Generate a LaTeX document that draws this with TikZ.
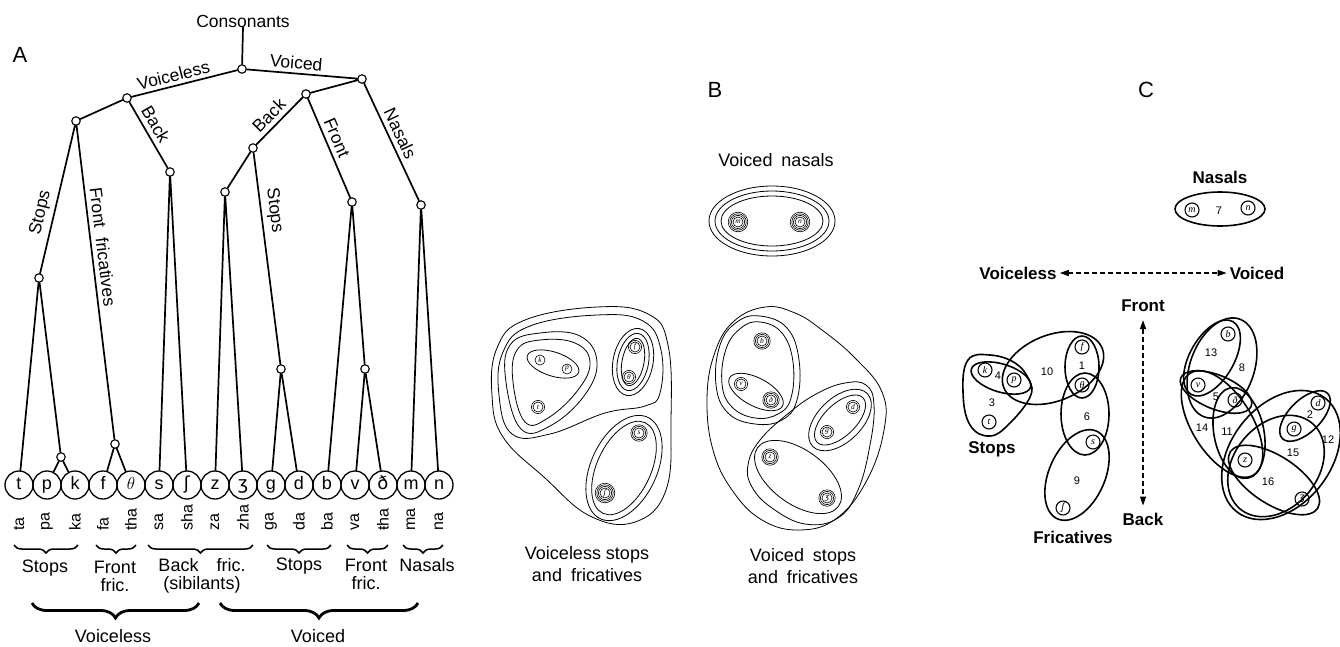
\documentclass[tikz,border=0pt]{standalone}
\usepackage{fontspec}
\setmainfont{Liberation Sans}
\newfontfamily\ipafont{DejaVu Sans}
\newfontfamily\serifit{Liberation Serif}
\usetikzlibrary{decorations.pathreplacing,arrows.meta}
\newcommand\rell[6]{\draw[#1, rotate around={#6:(#2,#3)}] (#2,#3) ellipse [x radius=#4pt, y radius=#5pt];}
\newcommand\bring[2]{\foreach \rr in {#2}{\draw[line width=0.6pt] (#1.center) circle [radius=\rr pt];}}
\tikzset{
 tree/.style={line width=1.7pt, line cap=round},
 knot/.style={circle, draw, fill=white, line width=1.1pt, minimum size=8.5pt, inner sep=0pt},
 leaf/.style={circle, draw, line width=1.3pt, minimum size=28pt, inner sep=0pt, text height=12pt, text depth=2.6pt, font=\fontsize{18}{18}\selectfont},
 brlab/.style={font=\fontsize{17.5}{17.5}\selectfont, inner sep=0pt},
 syl/.style={rotate=90, anchor=west, font=\fontsize{16}{16}\selectfont, inner sep=0pt},
 grp/.style={font=\fontsize{18}{18}\selectfont, align=center, inner sep=0pt},
 grpB/.style={font=\fontsize{18}{22}\selectfont, align=center, inner sep=0pt},
 smallbrace/.style={decorate, decoration={brace, mirror, amplitude=8pt}, line width=1.5pt},
 bigbrace/.style={decorate, decoration={brace, mirror, amplitude=15pt}, line width=2.8pt},
 thinc/.style={line width=0.8pt},
 bl/.style={circle, draw, line width=0.6pt, minimum size=10pt, inner sep=0pt, font=\serifit\itshape\fontsize{7.5}{7.5}\selectfont},
 cl/.style={line width=1.6pt},
 cletter/.style={circle, draw, line width=1.1pt, minimum size=14pt, inner sep=0pt, font=\serifit\itshape\fontsize{10}{10}\selectfont},
 num/.style={font=\fontsize{11}{11}\selectfont, inner sep=0pt},
 clab/.style={font=\bfseries\fontsize{17}{17}\selectfont, inner sep=0pt},
 panel/.style={font=\fontsize{22}{22}\selectfont, inner sep=0pt},
 darr/.style={dash pattern=on 5pt off 3pt, line width=1.3pt, {Triangle[length=9pt,width=6pt]}-{Triangle[length=9pt,width=6pt]}}
}
\begin{document}
\begin{tikzpicture}[x=1pt,y=-1pt]
\path[fill=white] (0,0) rectangle (1340,646);
\useasboundingbox (0,0) rectangle (1340,646);

%================ A =================
\node[panel] (labA) at (20,55) {A};
\node[brlab] (cons) at (243,21) {Consonants};
\node[knot] (r) at (242,69) {};
\node[knot] (vl) at (127,98) {};
\node[knot] (vd) at (362,79) {};
\node[knot] (sf) at (76,121) {};
\node[knot] (vlb) at (170,172) {};
\node[knot] (vdf) at (306,94) {};
\node[knot] (vn) at (421,205) {};
\node[knot] (vdb) at (253,148) {};
\node[knot] (vdfr) at (352,202) {};
\node[knot] (zz) at (225,192) {};
\node[knot] (gd) at (281,369) {};
\node[knot] (st) at (39,278) {};
\node[knot] (ff) at (115,444) {};
\node[knot] (pk) at (61,457) {};
\node[knot] (vth) at (365,369) {};

\foreach \i/\nm/\ch/\sy in {0/t/t/ta, 1/p/p/pa, 2/k/k/ka, 3/f/f/fa, 4/th/{$\theta$}/tha, 5/s/s/sa, 6/sh/{\ipafont ʃ}/sha, 7/z/z/za, 8/zh/{\ipafont ʒ}/zha, 9/g/g/ga, 10/d/d/da, 11/b/b/ba, 12/v/v/va, 13/dh/{\ipafont ð}/ŧha, 14/m/m/ma, 15/n/n/na}
{
  \node[leaf] (L\nm) at ({19+28*\i},485) {\ch};
  \node[syl] (S\nm) at ({19+28*\i},531) {\sy};
}

\draw[tree] (cons.south) -- (r);
\draw[tree] (r) -- (vl) (r) -- (vd) (vl) -- (sf) (vl) -- (vlb) (vd) -- (vdf) (vd) -- (vn)
  (vdf) -- (vdb) (vdf) -- (vdfr) (vdb) -- (zz) (vdb) -- (gd) (sf) -- (st) (sf) -- (ff)
  (st) -- (Lt) (st) -- (pk) (pk) -- (Lp) (pk) -- (Lk) (ff) -- (Lf) (ff) -- (Lth)
  (vlb) -- (Ls) (vlb) -- (Lsh) (zz) -- (Lz) (zz) -- (Lzh) (gd) -- (Lg) (gd) -- (Ld)
  (vdfr) -- (Lb) (vdfr) -- (vth) (vth) -- (Lv) (vth) -- (Ldh) (vn) -- (Lm) (vn) -- (Ln);

\path (vl) -- node[brlab, sloped, pos=0.42, above=4pt] (eVl) {Voiceless} (r);
\path (r) -- node[brlab, sloped, pos=0.44, above=4pt] (eVd) {Voiced} (vd);
\path (vl) -- node[brlab, sloped, pos=0.43, above=5pt] (eBk1) {Back} (vlb);
\path (st) -- node[brlab, sloped, pos=0.39, above=5pt] (eSt1) {Stops} (sf);
\path (sf) -- node[brlab, sloped, pos=0.39, above=5pt] (eFf) {Front\ \ fricatives} (ff);
\path (vdb) -- node[brlab, sloped, pos=0.45, above=5pt] (eBk2) {Back} (vdf);
\path (vdb) -- node[brlab, sloped, pos=0.28, above=5pt] (eSt2) {Stops} (gd);
\path (vdf) -- node[brlab, sloped, pos=0.44, above=5pt] (eFr) {Front} (vdfr);
\path (vd) -- node[brlab, sloped, pos=0.47, above=5pt] (eNs) {Nasals} (vn);

\draw[smallbrace] (14,545) -- (78,545);
\draw[smallbrace] (96,545) -- (136,545);
\draw[smallbrace] (148,545) -- (253,545);
\draw[smallbrace] (267,545) -- (331,545);
\draw[smallbrace] (347,545) -- (388,545);
\draw[smallbrace] (403,545) -- (443,545);
\draw[bigbrace] (32,603) -- (199,603);
\draw[bigbrace] (220,603) -- (418,603);

\node[grp] (gSt1) at (45,568) {Stops};
\node[grp] (gFf1) at (115,576) {Front\\fric.};
\node[grp] (gBf) at (202,576) {Back\quad fric.\\(sibilants)};
\node[grp] (gSt2) at (299,566) {Stops};
\node[grp] (gFf2) at (366,574) {Front\\fric.};
\node[grp] (gNs) at (427,565) {Nasals};
\node[grp] (gVl) at (113,636) {Voiceless};
\node[grp] (gVd) at (318,636) {Voiced};

%================ B =================
\node[panel] (labB) at (715,90) {B};
\node[grp] (bNasL) at (776,160) {Voiced\enspace nasals};
\foreach \a/\b in {63/35,57/30,51/25}{\draw[thinc] (772,221) ellipse [x radius=\a pt, y radius=\b pt];}
\node[bl] (Bm) at (738,222) {m}; \bring{Bm}{6.6,8.2,9.8}
\node[bl] (Bn) at (800,222) {n}; \bring{Bn}{6.6,8.2,9.8}

% voiceless
\draw[thinc] plot[smooth cycle, tension=0.7] coordinates {(492,395) (497,348) (525,320) (597,307) (648,314) (668,345) (671,420) (666,490) (635,522) (590,516) (545,478) (503,437)};
\draw[thinc] plot[smooth cycle, tension=0.7] coordinates {(499,395) (503,352) (530,326) (597,315) (643,321) (661,350) (660,393) (645,406) (605,413) (550,434) (512,434)};
\draw[thinc] plot[smooth cycle, tension=0.7] coordinates {(506,382) (510,345) (540,333) (580,336) (597,362) (584,396) (550,426) (521,429)};
\draw[thinc] plot[smooth cycle, tension=0.7] coordinates {(513,382) (517,350) (540,340) (575,343) (590,362) (578,390) (548,418) (525,422)};
\rell{thinc}{553}{364}{27}{12}{-18}
\foreach \a/\b in {34/20,29/15.5,24/11}{\rell{thinc}{633}{362}{\a}{\b}{79}}
\foreach \a/\b in {56/33,50/27}{\rell{thinc}{624}{468}{\a}{\b}{65}}
\node[bl] (Bk) at (540,360) {k};
\node[bl] (Bp) at (567,369) {p};
\node[bl] (Bt) at (538,407) {t}; \bring{Bt}{6.6}
\node[bl] (Bf) at (635,347) {f}; \bring{Bf}{6.6}
\node[bl] (Bth) at (629,377) {θ}; \bring{Bth}{6.6}
\node[bl] (Bs) at (639,433) {s}; \bring{Bs}{6.6,8.2}
\node[bl] (Bsh) at (605,493) {\ipafont ʃ}; \bring{Bsh}{6.6,8.2,9.8}
\node[grpB] (bVl) at (587,564) {Voiceless stops\\and\enspace fricatives};

% voiced
\draw[thinc] plot[smooth cycle, tension=0.7] coordinates {(707,400) (714,355) (733,322) (765,307) (795,313) (822,330) (855,358) (882,392) (884,430) (867,480) (837,518) (800,530) (762,520) (732,490) (713,450)};
\draw[thinc] plot[smooth cycle, tension=0.7] coordinates {(760,316) (787,328) (799,360) (797,400) (782,420) (755,424) (728,413) (716,385) (720,345) (737,322)};
\draw[thinc] plot[smooth cycle, tension=0.7] coordinates {(760,322) (782,333) (793,362) (791,398) (778,414) (755,418) (732,407) (722,384) (726,349) (741,328)};
\rell{thinc}{756}{392}{30}{14}{-28}
\draw[thinc] plot[smooth cycle, tension=0.7] coordinates {(748,465) (760,440) (790,412) (818,393) (845,383) (866,385) (874,405) (870,445) (858,490) (838,518) (805,524) (772,508) (752,487)};
\rell{thinc}{840}{420}{38}{22}{44}
\rell{thinc}{840}{420}{32}{16}{44}
\rell{thinc}{798}{477}{50}{27}{-36}
\node[bl] (Bb) at (762,341) {b}; \bring{Bb}{6.6,8.2}
\node[bl] (Bv) at (741,384) {v}; \bring{Bv}{6.6}
\node[bl] (Bdh) at (771,400) {ð}; \bring{Bdh}{6.6,8.2}
\node[bl] (Bd) at (853,407) {d}; \bring{Bd}{6.6}
\node[bl] (Bg) at (827,432) {g}; \bring{Bg}{6.6}
\node[bl] (Bz) at (770,457) {z}; \bring{Bz}{6.6,8.2}
\node[bl] (Bzh) at (827,498) {\ipafont ʒ}; \bring{Bzh}{6.6,8.2}
\node[grpB] (bVd) at (803,566) {Voiced\enspace stops\\and\enspace fricatives};

%================ C =================
\node[panel] (labC) at (1146,90) {C};
\node[clab] (cNas) at (1220,177) {Nasals};
\draw[cl] (1220,209) ellipse [x radius=45pt, y radius=17pt];
\node[cletter] (Cm) at (1192,210) {m};
\node[num] (n7) at (1219,211) {7};
\node[cletter] (Cn) at (1248,208) {n};

\node[clab] (cVl) at (1018,273) {Voiceless};
\node[clab] (cVd) at (1257,273) {Voiced};
\draw[darr, shorten <=3pt, shorten >=3pt] (cVl) -- (cVd);
\node[clab] (cFr) at (1143,306) {Front};
\node[clab] (cBk) at (1143,519) {Back};
\draw[darr, shorten <=8pt, shorten >=7pt] (cFr) -- (cBk);

% left cluster
\draw[cl] plot[smooth cycle, tension=0.7] coordinates {(963,392) (968,360) (990,355) (1015,363) (1029,380) (1030,397) (1010,423) (990,436) (970,425)};
\rell{cl}{1001}{378}{31}{14}{-17}
\rell{cl}{1053}{368}{53}{33}{22}
\draw[cl] (1082,367) ellipse [x radius=17pt, y radius=31pt];
\draw[cl] (1085,414) ellipse [x radius=24pt, y radius=41pt];
\rell{cl}{1077}{475}{48}{28}{66}
\node[cletter] (Ck) at (985,370) {k};
\node[cletter] (Cp) at (1014,380) {p};
\node[cletter] (Ct) at (989,422) {t};
\node[cletter] (Cf) at (1082,347) {f};
\node[cletter] (Cth) at (1082,385) {θ};
\node[cletter] (Cs) at (1093,442) {s};
\node[cletter] (Csh) at (1063,508) {\ipafont ʃ};
\node[num] (n4) at (998,376) {4};
\node[num] (n3) at (992,403) {3};
\node[num] (n10) at (1047,372) {10};
\node[num] (n1) at (1082,366) {1};
\node[num] (n6) at (1087,417) {6};
\node[num] (n9) at (1077,481) {9};
\node[clab] (cSt) at (992,449) {Stops};
\node[clab] (cFc) at (1073,537) {Fricatives};

% right cluster
\rell{cl}{1212}{358}{42}{22}{60}
\rell{cl}{1222}{368}{52}{32}{70}
\rell{cl}{1216}{392}{38}{17}{-22}
\rell{cl}{1222}{424}{60}{30}{-58}
\rell{cl}{1239}{433}{46}{25}{-79}
\rell{cl}{1305}{416}{32}{16}{45}
\rell{cl}{1274}{480}{52}{24}{-33}
\rell{cl}{1276}{466}{56}{42}{50}
\rell{cl}{1281}{455}{72}{50}{52}
\node[cletter] (Cb) at (1228,334) {b};
\node[cletter] (Cv) at (1198,385) {v};
\node[cletter] (Cdh) at (1235,400) {ð};
\node[cletter] (Cd) at (1318,403) {d};
\node[cletter] (Cg) at (1294,429) {g};
\node[cletter] (Cz) at (1245,460) {z};
\node[cletter] (Czh) at (1302,499) {\ipafont ʒ};
\node[num] (n13) at (1211,353) {13};
\node[num] (n8) at (1242,368) {8};
\node[num] (n5) at (1216,397) {5};
\node[num] (n14) at (1202,428) {14};
\node[num] (n11) at (1227,432) {11};
\node[num] (n2) at (1310,415) {2};
\node[num] (n12) at (1328,440) {12};
\node[num] (n15) at (1293,453) {15};
\node[num] (n16) at (1268,482) {16};
\end{tikzpicture}
\end{document}
